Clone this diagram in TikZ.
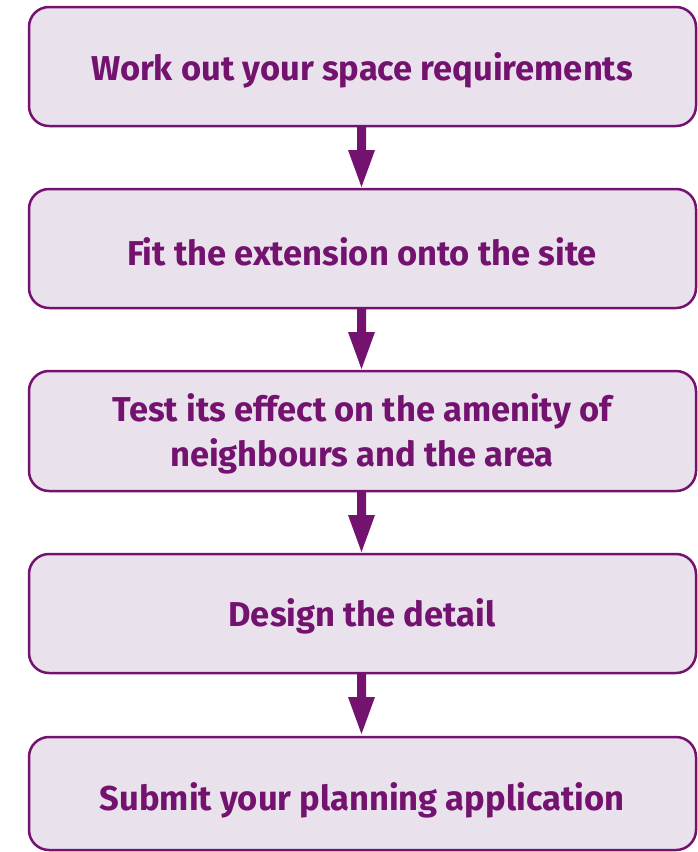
\documentclass[tikz,border=0pt]{standalone}
\usepackage{fontspec}
\setmainfont{Fira Sans}
\definecolor{pstroke}{HTML}{74136F}
\definecolor{pfill}{HTML}{E9E1EC}
\tikzset{
  stepbox/.style={draw=pstroke, fill=pfill, line width=2.5pt, rounded corners=20pt},
  steptext/.style={text=pstroke, font=\fontsize{34.5}{45}\selectfont\bfseries, align=center},
  flowarrow/.style={draw=pstroke, fill=pstroke}
}
\begin{document}
\begin{tikzpicture}[x=1pt,y=-1pt]
\useasboundingbox (0,0) rectangle (698,852);
% boxes
\draw[stepbox] (29,7) rectangle (696,126);
\draw[stepbox] (29,189) rectangle (696,308);
\draw[stepbox] (29,371) rectangle (696,491);
\draw[stepbox] (29,554) rectangle (696,673);
\draw[stepbox] (29,737) rectangle (696,850);
\node[steptext] (t1) at (362,70) {Work out your space requirements};
\node[steptext] (t2) at (362,252) {Fit the extension onto the site};
\node[steptext] (t3) at (362,434) {Test its effect on the amenity of\\neighbours and the area};
\node[steptext] (t4) at (362,616) {Design the detail};
\node[steptext] (t5) at (362,800) {Submit your planning application};
% arrows
\foreach \a in {126,308,491,673}{
  \fill[pstroke] (357,\a) -- (366,\a) -- (366,\a+24) -- (375,\a+24) -- (361.5,\a+61) -- (348,\a+24) -- (357,\a+24) -- cycle;
}
\end{tikzpicture}
\end{document}
